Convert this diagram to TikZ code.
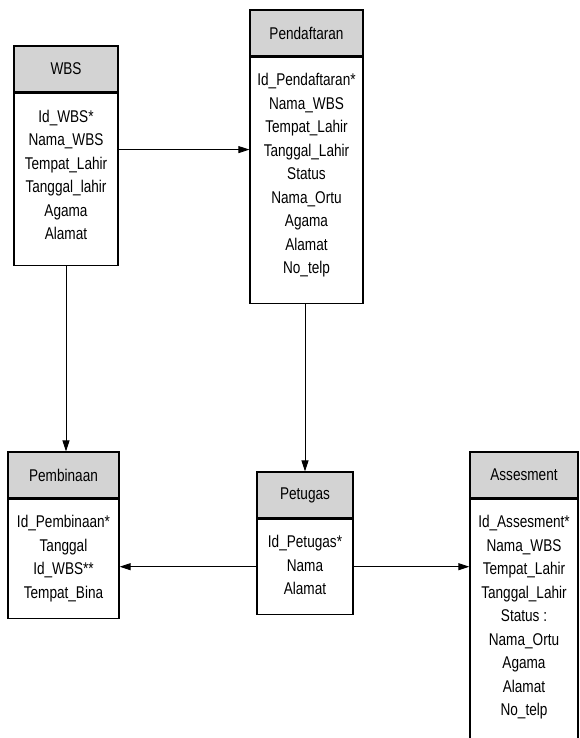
\documentclass[tikz,border=0pt]{standalone}
\usepackage{fontspec}
\setmainfont{Liberation Sans}[FakeStretch=0.8]
\usepackage{tikz}
\usetikzlibrary{positioning}
\usetikzlibrary{arrows.meta}
\definecolor{headgray}{RGB}{211,211,211}
\newcommand{\padtop}[1]{\rule{0pt}{#1}}
\newcommand{\padbot}[1]{\rule[-#1]{0pt}{#1}}

\begin{document}
\begin{tikzpicture}[x=1pt,y=-1pt,->,>={Triangle[length=11pt,width=7pt]},
    head/.style = {draw, line width=1.2pt, fill=headgray, minimum height=46pt, inner sep=0pt, font=\fontsize{17pt}{23.5pt}\selectfont},
    body/.style = {draw, line width=1.2pt, below=0pt of #1, inner sep=0pt, align=center, font=\fontsize{17pt}{23.5pt}\selectfont}]
        \useasboundingbox (0,0) rectangle (579,738);
        % tables
        \node[head, minimum width=104pt] (wbsh) at (66,69) {WBS};
        \node[body=wbsh, minimum width=104pt] (wbsb) {\padtop{29pt}Id\_WBS*\\Nama\_WBS\\Tempat\_Lahir\\Tanggal\_lahir\\Agama\\Alamat\padbot{25.5pt}};
        \node[head, minimum width=113pt] (pendh) at (306.5,33) {Pendaftaran};
        \node[body=pendh, minimum width=113pt] (pendb) {\padtop{28.5pt}Id\_Pendaftaran*\\Nama\_WBS\\Tempat\_Lahir\\Tanggal\_Lahir\\Status\\Nama\_Ortu\\Agama\\Alamat\\No\_telp\padbot{29.5pt}};
        \node[head, minimum width=111pt] (pembh) at (63.5,475) {Pembinaan};
        \node[body=pembh, minimum width=111pt] (pembb) {\padtop{28.5pt}Id\_Pembinaan*\\Tanggal\\Id\_WBS**\\Tempat\_Bina\padbot{20pt}};
        \node[head, minimum width=96pt] (peth) at (305,495) {Petugas};
        \node[body=peth, minimum width=96pt] (petb) {\padtop{28.5pt}Id\_Petugas*\\Nama\\Alamat\padbot{19.5pt}};
        \node[head, minimum width=108pt] (assh) at (524,475) {Assesment};
        \node[body=assh, minimum width=108pt] (assb) {\padtop{28.5pt}Id\_Assesment*\\Nama\_WBS\\Tempat\_Lahir\\Tanggal\_Lahir\\Status :\\Nama\_Ortu\\Agama\\Alamat\\No\_telp\padbot{40pt}};
        \coordinate (wbsout) at ([yshift=-57pt]wbsb.north east);
        % relations
        \path[line width=0.9pt]
        (wbsout) edge (wbsout -| pendb.west)
        (wbsb.south) edge (wbsb.south |- pembh.north)
        (peth.north |- pendb.south) edge (peth.north)
        (petb.west) edge (petb.west -| pembb.east)
        (petb.east) edge (petb.east -| assb.west);
\end{tikzpicture}
\end{document}
